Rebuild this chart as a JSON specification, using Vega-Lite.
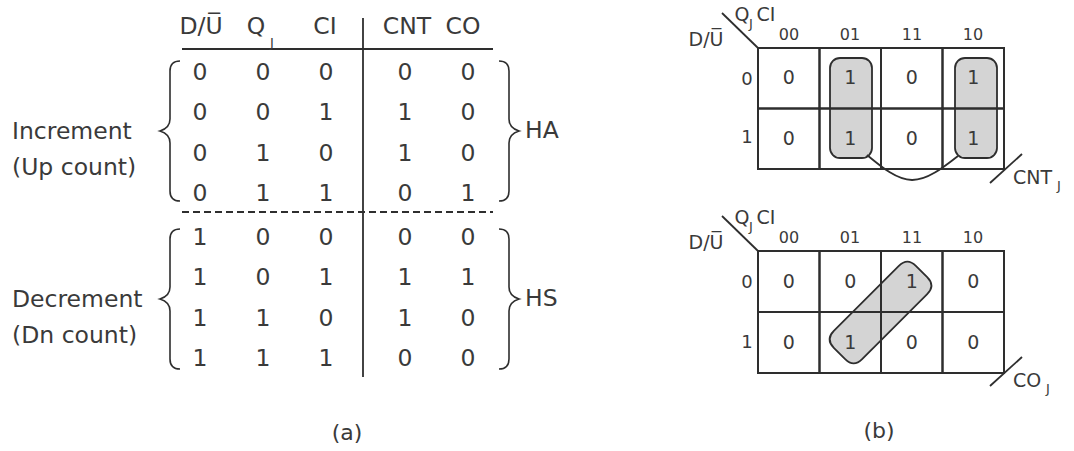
{
  "$schema": "https://vega.github.io/schema/vega-lite/v6.json",
  "width": 1074,
  "height": 451,
  "padding": 0,
  "autosize": {"type": "fit", "contains": "padding"},
  "background": "#ffffff",
  "config": {
    "view": {"stroke": null},
    "text": {"font": "DejaVu Sans", "color": "#3a3a3a"}
  },
  "datasets": {
    "table": [
      {"grp": "Increment", "r": 1, "DU": 0, "QJ": 0, "CI": 0, "CNT": 0, "CO": 0},
      {"grp": "Increment", "r": 2, "DU": 0, "QJ": 0, "CI": 1, "CNT": 1, "CO": 0},
      {"grp": "Increment", "r": 3, "DU": 0, "QJ": 1, "CI": 0, "CNT": 1, "CO": 0},
      {"grp": "Increment", "r": 4, "DU": 0, "QJ": 1, "CI": 1, "CNT": 0, "CO": 1},
      {"grp": "Decrement", "r": 1, "DU": 1, "QJ": 0, "CI": 0, "CNT": 0, "CO": 0},
      {"grp": "Decrement", "r": 2, "DU": 1, "QJ": 0, "CI": 1, "CNT": 1, "CO": 1},
      {"grp": "Decrement", "r": 3, "DU": 1, "QJ": 1, "CI": 0, "CNT": 1, "CO": 0},
      {"grp": "Decrement", "r": 4, "DU": 1, "QJ": 1, "CI": 1, "CNT": 0, "CO": 0}
    ],
    "kmap": [
      {"map": "CNT", "du": 0, "qc": "00", "v": 0},
      {"map": "CNT", "du": 0, "qc": "01", "v": 1},
      {"map": "CNT", "du": 0, "qc": "11", "v": 0},
      {"map": "CNT", "du": 0, "qc": "10", "v": 1},
      {"map": "CNT", "du": 1, "qc": "00", "v": 0},
      {"map": "CNT", "du": 1, "qc": "01", "v": 1},
      {"map": "CNT", "du": 1, "qc": "11", "v": 0},
      {"map": "CNT", "du": 1, "qc": "10", "v": 1},
      {"map": "CO", "du": 0, "qc": "00", "v": 0},
      {"map": "CO", "du": 0, "qc": "01", "v": 0},
      {"map": "CO", "du": 0, "qc": "11", "v": 1},
      {"map": "CO", "du": 0, "qc": "10", "v": 0},
      {"map": "CO", "du": 1, "qc": "00", "v": 0},
      {"map": "CO", "du": 1, "qc": "01", "v": 1},
      {"map": "CO", "du": 1, "qc": "11", "v": 0},
      {"map": "CO", "du": 1, "qc": "10", "v": 0}
    ],
    "loops": [
      {"x": 830, "x2": 872, "y": 58, "y2": 158},
      {"x": 955, "x2": 997, "y": 58, "y2": 158}
    ],
    "diagloop": [{"x": 880.5, "y": 312.5}],
    "segs": [
      {"x": 182, "y": 49, "x2": 493, "y2": 49},
      {"x": 363, "y": 18, "x2": 363, "y2": 377},
      {"x": 722, "y": 13, "x2": 758, "y2": 48},
      {"x": 722, "y": 216, "x2": 758, "y2": 251},
      {"x": 990, "y": 183, "x2": 1022, "y2": 154},
      {"x": 990, "y": 386, "x2": 1022, "y2": 357}
    ],
    "dashed": [{"x": 182, "y": 212, "x2": 493, "y2": 212}],
    "arc": [
      {"x": 867, "y": 155},
      {"x": 912, "y": 180},
      {"x": 958, "y": 156}
    ],
    "braces": [
      {"side": "left", "x": 170, "y": 131},
      {"side": "left", "x": 170, "y": 299},
      {"side": "right", "x": 509, "y": 131},
      {"side": "right", "x": 509, "y": 299}
    ],
    "t_head": [
      {"t": "D/U̅", "x": 201, "y": 27},
      {"t": "Q", "x": 256, "y": 27},
      {"t": "CI", "x": 325, "y": 27},
      {"t": "CNT", "x": 407, "y": 27},
      {"t": "CO", "x": 463, "y": 27}
    ],
    "t_left": [
      {"t": "Increment\n(Up count)", "x": 12, "y": 131.5},
      {"t": "Decrement\n(Dn count)", "x": 12, "y": 299.5},
      {"t": "HA", "x": 525, "y": 131},
      {"t": "HS", "x": 525, "y": 299}
    ],
    "t_cap": [
      {"t": "(a)", "x": 347, "y": 433},
      {"t": "(b)", "x": 879, "y": 431}
    ],
    "t_km": [
      {"t": "D/U̅", "x": 706, "y": 40},
      {"t": "D/U̅", "x": 706, "y": 243},
      {"t": "Q", "x": 742, "y": 15},
      {"t": "Q", "x": 742, "y": 218},
      {"t": "CI", "x": 766, "y": 15},
      {"t": "CI", "x": 766, "y": 218}
    ],
    "t_km_l": [
      {"t": "CNT", "x": 1013, "y": 178},
      {"t": "CO", "x": 1013, "y": 381}
    ],
    "t_km_cols": [
      {"t": "00", "x": 789, "y": 35},
      {"t": "01", "x": 850, "y": 35},
      {"t": "11", "x": 912, "y": 35},
      {"t": "10", "x": 973, "y": 35},
      {"t": "00", "x": 789, "y": 238},
      {"t": "01", "x": 850, "y": 238},
      {"t": "11", "x": 912, "y": 238},
      {"t": "10", "x": 973, "y": 238}
    ],
    "t_km_rows": [
      {"t": "0", "x": 747, "y": 80},
      {"t": "1", "x": 747, "y": 138},
      {"t": "0", "x": 747, "y": 283},
      {"t": "1", "x": 747, "y": 343}
    ],
    "t_sub": [
      {"t": "J", "x": 272, "y": 43},
      {"t": "J", "x": 751, "y": 24},
      {"t": "J", "x": 751, "y": 227},
      {"t": "J", "x": 1059, "y": 186},
      {"t": "J", "x": 1048, "y": 389}
    ]
  },
  "resolve": {"scale": {"x": "independent", "y": "independent", "xOffset": "independent", "yOffset": "independent"}},
  "layer": [
    {
      "encoding": {
        "x": {"field": "x", "type": "quantitative", "scale": {"domain": [0, 1074], "nice": false, "zero": false}, "axis": null},
        "y": {"field": "y", "type": "quantitative", "scale": {"domain": [0, 451], "nice": false, "zero": false, "reverse": true}, "axis": null}
      },
      "layer": [
        {
          "data": {"name": "loops"},
          "mark": {"type": "rect", "cornerRadius": 10, "fill": "#d4d4d4", "stroke": "#2e2e2e", "strokeWidth": 1.8},
          "encoding": {"x2": {"field": "x2"}, "y2": {"field": "y2"}}
        },
        {
          "data": {"name": "diagloop"},
          "mark": {"type": "point", "shape": "M -0.778 0.306 L 0.306 -0.778 Q 0.448 -0.919 0.589 -0.778 L 0.778 -0.589 Q 0.919 -0.448 0.778 -0.306 L -0.306 0.778 Q -0.448 0.919 -0.589 0.778 L -0.778 0.589 Q -0.919 0.448 -0.778 0.306 Z", "size": 14400, "filled": true, "fill": "#d4d4d4", "stroke": "#2e2e2e", "strokeWidth": 1.8, "opacity": 1},
          "encoding": {}
        }
      ]
    },
    {
      "data": {"name": "table"},
      "transform": [{"fold": ["DU", "QJ", "CI"], "as": ["col", "val"]}],
      "mark": {"type": "text", "fontSize": 23.5, "color": "#3a3a3a"},
      "encoding": {
        "x": {"field": "col", "type": "nominal", "scale": {"type": "point", "domain": ["DU", "QJ", "CI"], "range": [200, 326], "padding": 0}, "axis": null},
        "y": {"field": "grp", "type": "nominal", "scale": {"type": "point", "domain": ["Increment", "Decrement"], "range": [73, 238], "padding": 0}, "axis": null},
        "yOffset": {"field": "r", "type": "ordinal", "scale": {"type": "point", "domain": [1, 2, 3, 4], "range": [0, 121], "padding": 0}},
        "text": {"field": "val", "type": "nominal"}
      }
    },
    {
      "data": {"name": "table"},
      "transform": [{"fold": ["CNT", "CO"], "as": ["col", "val"]}],
      "mark": {"type": "text", "fontSize": 23.5, "color": "#3a3a3a"},
      "encoding": {
        "x": {"field": "col", "type": "nominal", "scale": {"type": "point", "domain": ["CNT", "CO"], "range": [405, 468], "padding": 0}, "axis": null},
        "y": {"field": "grp", "type": "nominal", "scale": {"type": "point", "domain": ["Increment", "Decrement"], "range": [73, 238], "padding": 0}, "axis": null},
        "yOffset": {"field": "r", "type": "ordinal", "scale": {"type": "point", "domain": [1, 2, 3, 4], "range": [0, 121], "padding": 0}},
        "text": {"field": "val", "type": "nominal"}
      }
    },
    {
      "data": {"name": "kmap"},
      "transform": [{"filter": {"field": "map", "equal": "CNT"}}],
      "encoding": {
        "x": {"field": "qc", "type": "ordinal", "scale": {"type": "band", "domain": ["00", "01", "11", "10"], "range": [758, 1004], "paddingInner": 0, "paddingOuter": 0}, "axis": null},
        "y": {"field": "du", "type": "ordinal", "scale": {"type": "band", "domain": [0, 1], "range": [48, 169], "paddingInner": 0, "paddingOuter": 0}, "axis": null}
      },
      "layer": [
        {"mark": {"type": "rect", "filled": false, "stroke": "#2e2e2e", "strokeWidth": 2}, "encoding": {}},
        {"mark": {"type": "text", "fontSize": 19, "color": "#3a3a3a"}, "encoding": {"text": {"field": "v", "type": "nominal"}}}
      ]
    },
    {
      "data": {"name": "kmap"},
      "transform": [{"filter": {"field": "map", "equal": "CO"}}],
      "encoding": {
        "x": {"field": "qc", "type": "ordinal", "scale": {"type": "band", "domain": ["00", "01", "11", "10"], "range": [758, 1004], "paddingInner": 0, "paddingOuter": 0}, "axis": null},
        "y": {"field": "du", "type": "ordinal", "scale": {"type": "band", "domain": [0, 1], "range": [251, 373], "paddingInner": 0, "paddingOuter": 0}, "axis": null}
      },
      "layer": [
        {"mark": {"type": "rect", "filled": false, "stroke": "#2e2e2e", "strokeWidth": 2}, "encoding": {}},
        {"mark": {"type": "text", "fontSize": 19, "color": "#3a3a3a"}, "encoding": {"text": {"field": "v", "type": "nominal"}}}
      ]
    },
    {
      "encoding": {
        "x": {"field": "x", "type": "quantitative", "scale": {"domain": [0, 1074], "nice": false, "zero": false}, "axis": null},
        "y": {"field": "y", "type": "quantitative", "scale": {"domain": [0, 451], "nice": false, "zero": false, "reverse": true}, "axis": null}
      },
      "layer": [
        {
          "data": {"name": "segs"},
          "mark": {"type": "rule", "color": "#2e2e2e", "strokeWidth": 1.8},
          "encoding": {"x2": {"field": "x2"}, "y2": {"field": "y2"}}
        },
        {
          "data": {"name": "dashed"},
          "mark": {"type": "rule", "color": "#2e2e2e", "strokeWidth": 1.8, "strokeDash": [7, 4]},
          "encoding": {"x2": {"field": "x2"}, "y2": {"field": "y2"}}
        },
        {
          "data": {"name": "arc"},
          "mark": {"type": "line", "interpolate": "natural", "color": "#2e2e2e", "strokeWidth": 1.8},
          "encoding": {}
        },
        {
          "data": {"name": "braces"},
          "mark": {"type": "point", "size": 19600, "filled": false, "strokeWidth": 1.6, "opacity": 1, "color": "#2e2e2e"},
          "encoding": {
            "shape": {"field": "side", "type": "nominal", "scale": {"domain": ["left", "right"], "range": ["M 0.143 -1 Q 0 -1 0 -0.857 L 0 -0.171 Q 0 -0.043 -0.143 0 Q 0 0.043 0 0.171 L 0 0.857 Q 0 1 0.143 1", "M -0.143 -1 Q 0 -1 0 -0.857 L 0 -0.171 Q 0 -0.043 0.143 0 Q 0 0.043 0 0.171 L 0 0.857 Q 0 1 -0.143 1"]}, "legend": null}
          }
        },
        {"data": {"name": "t_head"}, "mark": {"type": "text", "fontSize": 23.5, "color": "#3a3a3a"}, "encoding": {"text": {"field": "t"}}},
        {"data": {"name": "t_left"}, "mark": {"type": "text", "fontSize": 23.5, "align": "left", "lineBreak": "\n", "lineHeight": 36, "color": "#3a3a3a"}, "encoding": {"text": {"field": "t"}}},
        {"data": {"name": "t_cap"}, "mark": {"type": "text", "fontSize": 22, "color": "#3a3a3a"}, "encoding": {"text": {"field": "t"}}},
        {"data": {"name": "t_km"}, "mark": {"type": "text", "fontSize": 19, "color": "#3a3a3a"}, "encoding": {"text": {"field": "t"}}},
        {"data": {"name": "t_km_l"}, "mark": {"type": "text", "fontSize": 19, "align": "left", "color": "#3a3a3a"}, "encoding": {"text": {"field": "t"}}},
        {"data": {"name": "t_km_cols"}, "mark": {"type": "text", "fontSize": 16, "color": "#3a3a3a"}, "encoding": {"text": {"field": "t"}}},
        {"data": {"name": "t_km_rows"}, "mark": {"type": "text", "fontSize": 18, "color": "#3a3a3a"}, "encoding": {"text": {"field": "t"}}},
        {"data": {"name": "t_sub"}, "mark": {"type": "text", "fontSize": 13, "color": "#3a3a3a"}, "encoding": {"text": {"field": "t"}}}
      ]
    }
  ]
}
